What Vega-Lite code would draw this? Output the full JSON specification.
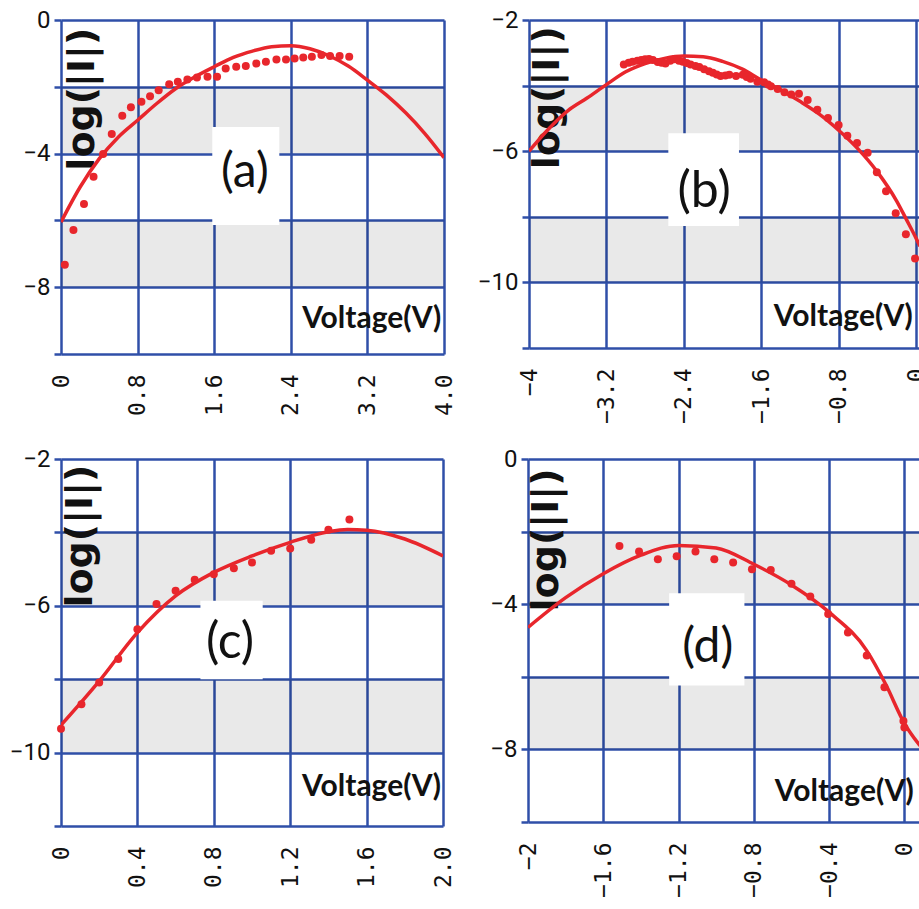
{
  "$schema": "https://vega.github.io/schema/vega-lite/v6.json",
  "padding": {"left": 9, "top": 8, "right": 0, "bottom": 11},
  "background": "white",
  "datasets": {
    "bands_ad": [{"L": -2, "L2": -4}, {"L": -6, "L2": -8}],
    "bands_bc": [{"L": -4, "L2": -6}, {"L": -8, "L2": -10}],
    "a_pts": [
      {"V": 0.04, "L": -7.33}, {"V": 0.13, "L": -6.29}, {"V": 0.24, "L": -5.51}, {"V": 0.34, "L": -4.69},
      {"V": 0.44, "L": -4.01}, {"V": 0.53, "L": -3.41}, {"V": 0.64, "L": -2.87}, {"V": 0.73, "L": -2.61},
      {"V": 0.84, "L": -2.45}, {"V": 0.93, "L": -2.28}, {"V": 1.02, "L": -2.1}, {"V": 1.13, "L": -1.92},
      {"V": 1.22, "L": -1.85}, {"V": 1.32, "L": -1.78}, {"V": 1.42, "L": -1.72}, {"V": 1.53, "L": -1.7},
      {"V": 1.63, "L": -1.7}, {"V": 1.72, "L": -1.45}, {"V": 1.83, "L": -1.4}, {"V": 1.93, "L": -1.38},
      {"V": 2.04, "L": -1.3}, {"V": 2.14, "L": -1.25}, {"V": 2.25, "L": -1.18}, {"V": 2.35, "L": -1.18},
      {"V": 2.44, "L": -1.15}, {"V": 2.53, "L": -1.12}, {"V": 2.62, "L": -1.1}, {"V": 2.72, "L": -1.05},
      {"V": 2.81, "L": -1.08}, {"V": 2.91, "L": -1.08}, {"V": 3.01, "L": -1.1}
    ],
    "a_fit": [
      {"V": 0.0, "L": -6.05}, {"V": 0.2, "L": -5.0}, {"V": 0.4, "L": -4.15}, {"V": 0.6, "L": -3.5},
      {"V": 0.8, "L": -3.0}, {"V": 1.0, "L": -2.5}, {"V": 1.2, "L": -2.05}, {"V": 1.4, "L": -1.7},
      {"V": 1.6, "L": -1.4}, {"V": 1.8, "L": -1.12}, {"V": 2.0, "L": -0.93}, {"V": 2.2, "L": -0.8},
      {"V": 2.4, "L": -0.77}, {"V": 2.6, "L": -0.86}, {"V": 2.8, "L": -1.07}, {"V": 3.0, "L": -1.38},
      {"V": 3.2, "L": -1.8}, {"V": 3.4, "L": -2.25}, {"V": 3.6, "L": -2.78}, {"V": 3.8, "L": -3.4},
      {"V": 4.0, "L": -4.12}
    ],
    "b_pts": [
      {"V": -3.02, "L": -3.36}, {"V": -2.97, "L": -3.3}, {"V": -2.93, "L": -3.27}, {"V": -2.88, "L": -3.24},
      {"V": -2.84, "L": -3.22}, {"V": -2.8, "L": -3.2}, {"V": -2.76, "L": -3.19}, {"V": -2.72, "L": -3.22},
      {"V": -2.67, "L": -3.28}, {"V": -2.63, "L": -3.3}, {"V": -2.59, "L": -3.33}, {"V": -2.54, "L": -3.24},
      {"V": -2.5, "L": -3.2}, {"V": -2.45, "L": -3.24}, {"V": -2.41, "L": -3.27}, {"V": -2.37, "L": -3.31},
      {"V": -2.33, "L": -3.36}, {"V": -2.28, "L": -3.4}, {"V": -2.24, "L": -3.43}, {"V": -2.19, "L": -3.5},
      {"V": -2.14, "L": -3.56}, {"V": -2.1, "L": -3.61}, {"V": -2.06, "L": -3.66}, {"V": -2.02, "L": -3.71},
      {"V": -1.97, "L": -3.69}, {"V": -1.93, "L": -3.67}, {"V": -1.86, "L": -3.71}, {"V": -1.79, "L": -3.67},
      {"V": -1.75, "L": -3.74}, {"V": -1.71, "L": -3.79}, {"V": -1.64, "L": -3.88}, {"V": -1.57, "L": -3.9},
      {"V": -1.53, "L": -3.97}, {"V": -1.5, "L": -4.02}, {"V": -1.43, "L": -4.1}, {"V": -1.36, "L": -4.2},
      {"V": -1.29, "L": -4.27}, {"V": -1.21, "L": -4.25}, {"V": -1.12, "L": -4.44}, {"V": -1.02, "L": -4.74},
      {"V": -0.91, "L": -4.99}, {"V": -0.8, "L": -5.2}, {"V": -0.71, "L": -5.53}, {"V": -0.61, "L": -5.75},
      {"V": -0.5, "L": -6.05}, {"V": -0.405, "L": -6.64}, {"V": -0.31, "L": -7.22}, {"V": -0.21, "L": -7.89},
      {"V": -0.105, "L": -8.53}, {"V": -0.01, "L": -9.27}
    ],
    "b_fit": [
      {"V": -4.0, "L": -6.0}, {"V": -3.8, "L": -5.33}, {"V": -3.6, "L": -4.77}, {"V": -3.4, "L": -4.38},
      {"V": -3.2, "L": -3.97}, {"V": -3.0, "L": -3.58}, {"V": -2.8, "L": -3.33}, {"V": -2.6, "L": -3.17},
      {"V": -2.4, "L": -3.1}, {"V": -2.2, "L": -3.12}, {"V": -2.0, "L": -3.26}, {"V": -1.8, "L": -3.49},
      {"V": -1.6, "L": -3.83}, {"V": -1.4, "L": -4.13}, {"V": -1.2, "L": -4.48}, {"V": -1.0, "L": -4.87},
      {"V": -0.8, "L": -5.36}, {"V": -0.6, "L": -5.93}, {"V": -0.4, "L": -6.63}, {"V": -0.2, "L": -7.52},
      {"V": -0.1, "L": -8.08}, {"V": 0.0, "L": -8.65}, {"V": 0.041, "L": -8.9}
    ],
    "c_pts": [
      {"V": 0.0, "L": -9.35}, {"V": 0.107, "L": -8.68}, {"V": 0.2, "L": -8.09}, {"V": 0.3, "L": -7.45},
      {"V": 0.4, "L": -6.64}, {"V": 0.5, "L": -5.95}, {"V": 0.6, "L": -5.59}, {"V": 0.7, "L": -5.29},
      {"V": 0.8, "L": -5.14}, {"V": 0.905, "L": -4.98}, {"V": 1.0, "L": -4.82}, {"V": 1.1, "L": -4.5},
      {"V": 1.2, "L": -4.44}, {"V": 1.31, "L": -4.2}, {"V": 1.4, "L": -3.93}, {"V": 1.51, "L": -3.65}
    ],
    "c_fit": [
      {"V": 0.0, "L": -9.25}, {"V": 0.2, "L": -8.05}, {"V": 0.4, "L": -6.73}, {"V": 0.6, "L": -5.73},
      {"V": 0.8, "L": -5.09}, {"V": 1.0, "L": -4.64}, {"V": 1.2, "L": -4.27}, {"V": 1.4, "L": -3.98},
      {"V": 1.5, "L": -3.92}, {"V": 1.6, "L": -3.94}, {"V": 1.8, "L": -4.18}, {"V": 2.0, "L": -4.64}
    ],
    "d_pts": [
      {"V": -1.514, "L": -2.4}, {"V": -1.41, "L": -2.55}, {"V": -1.31, "L": -2.76}, {"V": -1.21, "L": -2.68},
      {"V": -1.11, "L": -2.55}, {"V": -1.01, "L": -2.76}, {"V": -0.91, "L": -2.85}, {"V": -0.81, "L": -3.04},
      {"V": -0.71, "L": -3.06}, {"V": -0.6, "L": -3.44}, {"V": -0.5, "L": -3.79}, {"V": -0.405, "L": -4.27},
      {"V": -0.3, "L": -4.78}, {"V": -0.2, "L": -5.41}, {"V": -0.106, "L": -6.29}, {"V": -0.005, "L": -7.22},
      {"V": 0.0, "L": -7.4}
    ],
    "d_fit": [
      {"V": -2.0, "L": -4.64}, {"V": -1.8, "L": -3.82}, {"V": -1.6, "L": -3.16}, {"V": -1.4, "L": -2.65},
      {"V": -1.2, "L": -2.38}, {"V": -1.0, "L": -2.45}, {"V": -0.8, "L": -2.9}, {"V": -0.6, "L": -3.47},
      {"V": -0.4, "L": -4.22}, {"V": -0.2, "L": -5.28}, {"V": -0.1, "L": -6.2}, {"V": 0.0, "L": -7.28},
      {"V": 0.083, "L": -7.9}
    ]
  },
  "vconcat": [
    {
      "hconcat": [
        {
          "width": 383, "height": 334,
          "layer": [
            {"data": {"name": "bands_ad"}, "mark": {"type": "rect", "fill": "black", "fillOpacity": 0.085},
              "encoding": {
                "x": {"datum": 0, "type": "quantitative", "scale": {"domain": [0, 4], "nice": false, "zero": false}}, "x2": {"datum": 4},
                "y": {"field": "L", "type": "quantitative", "scale": {"domain": [-10, 0], "nice": false, "zero": false}}, "y2": {"field": "L2"}}},
            {"data": {"values": [{}]}, "mark": {"type": "rect", "fill": "white"},
              "encoding": {
                "x": {"datum": 1.58, "type": "quantitative", "scale": {"domain": [0, 4], "nice": false, "zero": false}}, "x2": {"datum": 2.28},
                "y": {"datum": -3.2, "type": "quantitative", "scale": {"domain": [-10, 0], "nice": false, "zero": false}}, "y2": {"datum": -6.14}}},
            {"data": {"values": [{}]}, "mark": {"type": "text", "text": "(a)", "font": "Lato", "fontSize": 48, "color": "#111", "align": "center", "baseline": "middle"},
              "encoding": {
                "x": {"datum": 1.92, "type": "quantitative", "scale": {"domain": [0, 4], "nice": false, "zero": false}},
                "y": {"datum": -4.58, "type": "quantitative", "scale": {"domain": [-10, 0], "nice": false, "zero": false}}}},
            {"data": {"values": [{}]}, "mark": {"type": "text", "text": "log(|I|)", "font": "DejaVu Sans", "fontWeight": "bold", "fontSize": 38, "angle": 270, "color": "#111", "align": "center", "baseline": "middle"},
              "encoding": {
                "x": {"datum": 0.23, "type": "quantitative", "scale": {"domain": [0, 4], "nice": false, "zero": false}},
                "y": {"datum": -2.37, "type": "quantitative", "scale": {"domain": [-10, 0], "nice": false, "zero": false}}}},
            {"data": {"values": [{}]}, "mark": {"type": "text", "text": "Voltage(V)", "font": "Lato", "fontWeight": "bold", "fontSize": 30, "color": "#111", "align": "right", "baseline": "alphabetic"},
              "encoding": {
                "x": {"datum": 3.97, "type": "quantitative", "scale": {"domain": [0, 4], "nice": false, "zero": false}},
                "y": {"datum": -9.22, "type": "quantitative", "scale": {"domain": [-10, 0], "nice": false, "zero": false}}}},
            {"data": {"name": "a_fit"}, "mark": {"type": "line", "color": "#e8262c", "strokeWidth": 3.5, "interpolate": "monotone", "clip": true},
              "encoding": {
                "x": {"field": "V", "type": "quantitative", "scale": {"domain": [0, 4], "nice": false, "zero": false}},
                "y": {"field": "L", "type": "quantitative", "scale": {"domain": [-10, 0], "nice": false, "zero": false}}}},
            {"data": {"name": "a_pts"}, "mark": {"type": "circle", "color": "#e8262c", "size": 64, "opacity": 1},
              "encoding": {
                "x": {"field": "V", "type": "quantitative", "scale": {"domain": [0, 4], "nice": false, "zero": false},
                  "axis": {"title": null, "values": [0, 0.4, 0.8, 1.2, 1.6, 2, 2.4, 2.8, 3.2, 3.6, 4],
                    "labelExpr": "round(datum.value*10) % 8 == 0 ? (datum.value == 0 ? '0' : format(datum.value, '.1f')) : ''"}},
                "y": {"field": "L", "type": "quantitative", "scale": {"domain": [-10, 0], "nice": false, "zero": false},
                  "axis": {"title": null, "values": [-10, -8, -6, -4, -2, 0],
                    "labelExpr": "round(datum.value) % 4 == 0 ? format(datum.value, 'd') : ''"}}}}
          ]
        },
        {
          "width": 391, "height": 328,
          "layer": [
            {"data": {"name": "bands_bc"}, "mark": {"type": "rect", "fill": "black", "fillOpacity": 0.085},
              "encoding": {
                "x": {"datum": -4, "type": "quantitative", "scale": {"domain": [-4, 0.041], "nice": false, "zero": false}}, "x2": {"datum": 0.041},
                "y": {"field": "L", "type": "quantitative", "scale": {"domain": [-12, -2], "nice": false, "zero": false}}, "y2": {"field": "L2"}}},
            {"data": {"values": [{}]}, "mark": {"type": "rect", "fill": "white"},
              "encoding": {
                "x": {"datum": -2.56, "type": "quantitative", "scale": {"domain": [-4, 0.041], "nice": false, "zero": false}}, "x2": {"datum": -1.83},
                "y": {"datum": -5.45, "type": "quantitative", "scale": {"domain": [-12, -2], "nice": false, "zero": false}}, "y2": {"datum": -8.28}}},
            {"data": {"values": [{}]}, "mark": {"type": "text", "text": "(b)", "font": "Lato", "fontSize": 50, "color": "#111", "align": "center", "baseline": "middle"},
              "encoding": {
                "x": {"datum": -2.19, "type": "quantitative", "scale": {"domain": [-4, 0.041], "nice": false, "zero": false}},
                "y": {"datum": -7.23, "type": "quantitative", "scale": {"domain": [-12, -2], "nice": false, "zero": false}}}},
            {"data": {"values": [{}]}, "mark": {"type": "text", "text": "log(|I|)", "font": "DejaVu Sans", "fontWeight": "bold", "fontSize": 38, "angle": 270, "color": "#111", "align": "center", "baseline": "middle"},
              "encoding": {
                "x": {"datum": -3.8, "type": "quantitative", "scale": {"domain": [-4, 0.041], "nice": false, "zero": false}},
                "y": {"datum": -4.37, "type": "quantitative", "scale": {"domain": [-12, -2], "nice": false, "zero": false}}}},
            {"data": {"values": [{}]}, "mark": {"type": "text", "text": "Voltage(V)", "font": "Lato", "fontWeight": "bold", "fontSize": 30, "color": "#111", "align": "right", "baseline": "alphabetic"},
              "encoding": {
                "x": {"datum": -0.033, "type": "quantitative", "scale": {"domain": [-4, 0.041], "nice": false, "zero": false}},
                "y": {"datum": -11.32, "type": "quantitative", "scale": {"domain": [-12, -2], "nice": false, "zero": false}}}},
            {"data": {"name": "b_fit"}, "mark": {"type": "line", "color": "#e8262c", "strokeWidth": 3.5, "interpolate": "monotone", "clip": true},
              "encoding": {
                "x": {"field": "V", "type": "quantitative", "scale": {"domain": [-4, 0.041], "nice": false, "zero": false}},
                "y": {"field": "L", "type": "quantitative", "scale": {"domain": [-12, -2], "nice": false, "zero": false}}}},
            {"data": {"name": "b_pts"}, "mark": {"type": "circle", "color": "#e8262c", "size": 64, "opacity": 1},
              "encoding": {
                "x": {"field": "V", "type": "quantitative", "scale": {"domain": [-4, 0.041], "nice": false, "zero": false},
                  "axis": {"title": null, "values": [-4, -3.6, -3.2, -2.8, -2.4, -2, -1.6, -1.2, -0.8, -0.4, 0],
                    "labelExpr": "abs(round(datum.value*10)) % 8 == 0 ? format(datum.value, datum.value == round(datum.value) ? 'd' : '.1f') : ''"}},
                "y": {"field": "L", "type": "quantitative", "scale": {"domain": [-12, -2], "nice": false, "zero": false},
                  "axis": {"title": null, "values": [-12, -10, -8, -6, -4, -2],
                    "labelExpr": "(round(datum.value) + 2) % 4 == 0 ? format(datum.value, 'd') : ''"}}}}
          ]
        }
      ],
      "spacing": 85,
      "bounds": "flush"
    },
    {
      "hconcat": [
        {
          "width": 382, "height": 367,
          "layer": [
            {"data": {"name": "bands_bc"}, "mark": {"type": "rect", "fill": "black", "fillOpacity": 0.085},
              "encoding": {
                "x": {"datum": 0, "type": "quantitative", "scale": {"domain": [0, 2], "nice": false, "zero": false}}, "x2": {"datum": 2},
                "y": {"field": "L", "type": "quantitative", "scale": {"domain": [-12, -2], "nice": false, "zero": false}}, "y2": {"field": "L2"}}},
            {"data": {"values": [{}]}, "mark": {"type": "rect", "fill": "white"},
              "encoding": {
                "x": {"datum": 0.73, "type": "quantitative", "scale": {"domain": [0, 2], "nice": false, "zero": false}}, "x2": {"datum": 1.056},
                "y": {"datum": -5.86, "type": "quantitative", "scale": {"domain": [-12, -2], "nice": false, "zero": false}}, "y2": {"datum": -8.0}}},
            {"data": {"values": [{}]}, "mark": {"type": "text", "text": "(c)", "font": "Lato", "fontSize": 50, "color": "#111", "align": "center", "baseline": "middle"},
              "encoding": {
                "x": {"datum": 0.885, "type": "quantitative", "scale": {"domain": [0, 2], "nice": false, "zero": false}},
                "y": {"datum": -7.02, "type": "quantitative", "scale": {"domain": [-12, -2], "nice": false, "zero": false}}}},
            {"data": {"values": [{}]}, "mark": {"type": "text", "text": "log(|I|)", "font": "DejaVu Sans", "fontWeight": "bold", "fontSize": 38, "angle": 270, "color": "#111", "align": "center", "baseline": "middle"},
              "encoding": {
                "x": {"datum": 0.105, "type": "quantitative", "scale": {"domain": [0, 2], "nice": false, "zero": false}},
                "y": {"datum": -4.1, "type": "quantitative", "scale": {"domain": [-12, -2], "nice": false, "zero": false}}}},
            {"data": {"values": [{}]}, "mark": {"type": "text", "text": "Voltage(V)", "font": "Lato", "fontWeight": "bold", "fontSize": 30, "color": "#111", "align": "right", "baseline": "alphabetic"},
              "encoding": {
                "x": {"datum": 1.99, "type": "quantitative", "scale": {"domain": [0, 2], "nice": false, "zero": false}},
                "y": {"datum": -11.19, "type": "quantitative", "scale": {"domain": [-12, -2], "nice": false, "zero": false}}}},
            {"data": {"name": "c_fit"}, "mark": {"type": "line", "color": "#e8262c", "strokeWidth": 3.5, "interpolate": "monotone", "clip": true},
              "encoding": {
                "x": {"field": "V", "type": "quantitative", "scale": {"domain": [0, 2], "nice": false, "zero": false}},
                "y": {"field": "L", "type": "quantitative", "scale": {"domain": [-12, -2], "nice": false, "zero": false}}}},
            {"data": {"name": "c_pts"}, "mark": {"type": "circle", "color": "#e8262c", "size": 64, "opacity": 1},
              "encoding": {
                "x": {"field": "V", "type": "quantitative", "scale": {"domain": [0, 2], "nice": false, "zero": false},
                  "axis": {"title": null, "values": [0, 0.2, 0.4, 0.6, 0.8, 1, 1.2, 1.4, 1.6, 1.8, 2],
                    "labelExpr": "round(datum.value*10) % 4 == 0 ? (datum.value == 0 ? '0' : format(datum.value, '.1f')) : ''"}},
                "y": {"field": "L", "type": "quantitative", "scale": {"domain": [-12, -2], "nice": false, "zero": false},
                  "axis": {"title": null, "values": [-12, -10, -8, -6, -4, -2],
                    "labelExpr": "(round(datum.value) + 2) % 4 == 0 ? format(datum.value, 'd') : ''"}}}}
          ]
        },
        {
          "width": 392, "height": 363,
          "layer": [
            {"data": {"name": "bands_ad"}, "mark": {"type": "rect", "fill": "black", "fillOpacity": 0.085},
              "encoding": {
                "x": {"datum": -2, "type": "quantitative", "scale": {"domain": [-2, 0.083], "nice": false, "zero": false}}, "x2": {"datum": 0.083},
                "y": {"field": "L", "type": "quantitative", "scale": {"domain": [-10, 0], "nice": false, "zero": false}}, "y2": {"field": "L2"}}},
            {"data": {"values": [{}]}, "mark": {"type": "rect", "fill": "white"},
              "encoding": {
                "x": {"datum": -1.25, "type": "quantitative", "scale": {"domain": [-2, 0.083], "nice": false, "zero": false}}, "x2": {"datum": -0.85},
                "y": {"datum": -3.7, "type": "quantitative", "scale": {"domain": [-10, 0], "nice": false, "zero": false}}, "y2": {"datum": -6.24}}},
            {"data": {"values": [{}]}, "mark": {"type": "text", "text": "(d)", "font": "Lato", "fontSize": 48, "color": "#111", "align": "center", "baseline": "middle"},
              "encoding": {
                "x": {"datum": -1.045, "type": "quantitative", "scale": {"domain": [-2, 0.083], "nice": false, "zero": false}},
                "y": {"datum": -5.2, "type": "quantitative", "scale": {"domain": [-10, 0], "nice": false, "zero": false}}}},
            {"data": {"values": [{}]}, "mark": {"type": "text", "text": "log(|I|)", "font": "DejaVu Sans", "fontWeight": "bold", "fontSize": 38, "angle": 270, "color": "#111", "align": "center", "baseline": "middle"},
              "encoding": {
                "x": {"datum": -1.9, "type": "quantitative", "scale": {"domain": [-2, 0.083], "nice": false, "zero": false}},
                "y": {"datum": -2.23, "type": "quantitative", "scale": {"domain": [-10, 0], "nice": false, "zero": false}}}},
            {"data": {"values": [{}]}, "mark": {"type": "text", "text": "Voltage(V)", "font": "Lato", "fontWeight": "bold", "fontSize": 30, "color": "#111", "align": "right", "baseline": "alphabetic"},
              "encoding": {
                "x": {"datum": 0.05, "type": "quantitative", "scale": {"domain": [-2, 0.083], "nice": false, "zero": false}},
                "y": {"datum": -9.41, "type": "quantitative", "scale": {"domain": [-10, 0], "nice": false, "zero": false}}}},
            {"data": {"name": "d_fit"}, "mark": {"type": "line", "color": "#e8262c", "strokeWidth": 3.5, "interpolate": "monotone", "clip": true},
              "encoding": {
                "x": {"field": "V", "type": "quantitative", "scale": {"domain": [-2, 0.083], "nice": false, "zero": false}},
                "y": {"field": "L", "type": "quantitative", "scale": {"domain": [-10, 0], "nice": false, "zero": false}}}},
            {"data": {"name": "d_pts"}, "mark": {"type": "circle", "color": "#e8262c", "size": 64, "opacity": 1},
              "encoding": {
                "x": {"field": "V", "type": "quantitative", "scale": {"domain": [-2, 0.083], "nice": false, "zero": false},
                  "axis": {"title": null, "values": [-2, -1.8, -1.6, -1.4, -1.2, -1, -0.8, -0.6, -0.4, -0.2, 0],
                    "labelExpr": "abs(round(datum.value*10)) % 4 == 0 ? format(datum.value, datum.value == round(datum.value) ? 'd' : '.1f') : ''"}},
                "y": {"field": "L", "type": "quantitative", "scale": {"domain": [-10, 0], "nice": false, "zero": false},
                  "axis": {"title": null, "values": [-10, -8, -6, -4, -2, 0],
                    "labelExpr": "round(datum.value) % 4 == 0 ? format(datum.value, 'd') : ''"}}}}
          ]
        }
      ],
      "spacing": 85,
      "bounds": "flush"
    }
  ],
  "spacing": 23,
  "config": {
    "view": {"stroke": null},
    "axis": {
      "grid": true, "gridColor": "#2f4fa8", "gridWidth": 2.5, "gridOpacity": 1,
      "domain": false, "labelColor": "#111", "labelOverlap": false, "labelBound": false, "labelFlush": false
    },
    "axisX": {"ticks": false, "labelAngle": -90, "labelFont": "DejaVu Sans Mono", "labelFontSize": 23, "labelPadding": 20},
    "axisY": {"ticks": true, "tickColor": "#2f4fa8", "tickSize": 7, "tickWidth": 2.5,
      "labelFont": "Roboto", "labelFontSize": 24, "labelPadding": 4}
  }
}
